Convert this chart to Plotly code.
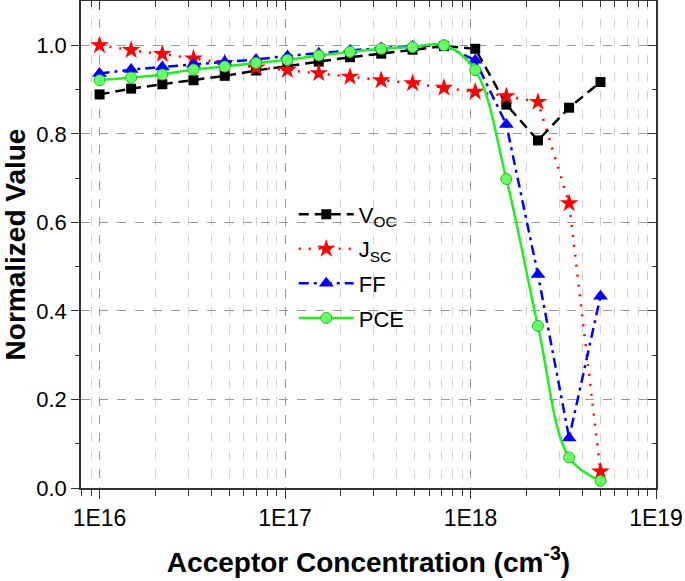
import plotly.graph_objects as go

conc = [1.0e16, 1.48e16, 2.18e16, 3.21e16, 4.73e16, 6.98e16, 1.03e17, 1.52e17, 2.24e17,
        3.30e17, 4.87e17, 7.19e17, 1.06e18, 1.56e18, 2.31e18, 3.40e18, 5.02e18]
voc = [0.889, 0.902, 0.912, 0.921, 0.931, 0.943, 0.953, 0.963, 0.973, 0.981, 0.990, 0.998,
       0.992, 0.866, 0.785, 0.859, 0.917]
jsc = [1.000, 0.989, 0.980, 0.970, 0.960, 0.950, 0.944, 0.937, 0.929, 0.921, 0.914, 0.904,
       0.895, 0.885, 0.872, 0.643, 0.037]
ff = [0.936, 0.945, 0.951, 0.957, 0.963, 0.968, 0.976, 0.982, 0.988, 0.994, 0.998, 1.000,
      0.966, 0.821, 0.482, 0.113, 0.433]
pce = [0.921, 0.927, 0.934, 0.945, 0.952, 0.960, 0.967, 0.977, 0.985, 0.992, 0.996, 1.000,
       0.944, 0.698, 0.366, 0.069, 0.016]

x_tick_vals = [1e16, 1e17, 1e18, 1e19]
x_tick_text = ["1E16", "1E17", "1E18", "1E19"]
x_minor_vals = [m * 10.0 ** e for e in range(15, 19) for m in range(2, 10)]
y_tick_vals = [0.0, 0.2, 0.4, 0.6, 0.8, 1.0]
y_minor_vals = [0.1, 0.3, 0.5, 0.7, 0.9]

FONT = "Liberation Sans, Arial, sans-serif"
xr = [15.9, 19.0]
yr = [0.0, 1.1]

fig = go.Figure()
fig.add_trace(go.Scatter(
    x=conc, y=voc, name="V<sub>OC</sub>", mode="lines+markers", legendgroup="a",
    line=dict(color="black", width=2.5, dash="10px,6px"),
    marker=dict(symbol="square", size=10, color="black"), cliponaxis=False))
fig.add_trace(go.Scatter(
    x=conc, y=jsc, name="J<sub>SC</sub>", mode="lines+markers", legendgroup="b",
    line=dict(color="red", width=2.5, dash="2px,8px"),
    marker=dict(symbol="star", size=14, color="red"), cliponaxis=False))
fig.add_trace(go.Scatter(
    x=conc, y=ff, name="FF", mode="lines+markers", legendgroup="c",
    line=dict(color="blue", width=2.5, dash="10px,5px,3px,5px"),
    marker=dict(symbol="triangle-up", size=13, color="blue"), cliponaxis=False))
fig.add_trace(go.Scatter(
    x=conc, y=pce, name="PCE", mode="lines+markers", legendgroup="d",
    line=dict(color="#22ee22", width=2.5, shape="spline", smoothing=1.0),
    marker=dict(symbol="circle", size=11, color="#66ff66",
                line=dict(color="#22bb22", width=1)), cliponaxis=False))
fig.add_trace(go.Scatter(x=[], y=[], xaxis="x2", yaxis="y2", showlegend=False,
                         hoverinfo="skip"))

fig.update_layout(
    width=685, height=581,
    margin=dict(l=81, r=29, t=1, b=93),
    paper_bgcolor="white", plot_bgcolor="white",
    font=dict(family=FONT, size=20, color="black"),
    showlegend=True,
    legend=dict(x=0.37, y=0.605, xanchor="left", yanchor="top",
                bgcolor="rgba(0,0,0,0)", font=dict(size=22),
                traceorder="grouped", tracegroupgap=3, itemwidth=55),
    xaxis=dict(
        type="log", range=xr, tickmode="array", tickvals=x_tick_vals, ticktext=x_tick_text,
        ticks="outside", ticklen=9, tickwidth=1.2, tickcolor="#333", automargin=False,
        showline=True, linecolor="#333", linewidth=1.5,
        showgrid=True, gridcolor="#9a9a9a", griddash="dash", gridwidth=1,
        tickfont=dict(size=23),
        minor=dict(tickmode="array", tickvals=x_minor_vals, ticks="outside", ticklen=6,
                   tickcolor="#333", showgrid=True, gridcolor="#d2d2d2", griddash="dash",
                   gridwidth=1),
        title=dict(text="<b>Acceptor Concentration (cm<sup>-3</sup>)</b>",
                   font=dict(size=28), standoff=22),
        zeroline=False),
    yaxis=dict(
        range=yr, tickmode="array", tickvals=y_tick_vals, tickformat=".1f",
        ticks="outside", ticklen=8, tickwidth=1.2, tickcolor="#333", automargin=False,
        showline=True, linecolor="#333", linewidth=1.5,
        showgrid=True, gridcolor="#9a9a9a", griddash="dash", gridwidth=1,
        tickfont=dict(size=22),
        minor=dict(tickmode="array", tickvals=y_minor_vals, ticks="outside", ticklen=4,
                   tickcolor="#333", showgrid=False),
        title=dict(text="<b>Normalized Value</b>", font=dict(size=28), standoff=6),
        zeroline=False),
    xaxis2=dict(
        type="log", range=xr, overlaying="x", side="top", tickmode="array",
        tickvals=x_tick_vals, showticklabels=False, ticks="inside", ticklen=9,
        tickcolor="#333", showline=True, linecolor="#333", linewidth=1.5, showgrid=False,
        minor=dict(tickmode="array", tickvals=x_minor_vals, ticks="inside", ticklen=6,
                   tickcolor="#333", showgrid=False),
        zeroline=False),
    yaxis2=dict(
        range=yr, overlaying="y", side="right", tickmode="array", tickvals=y_tick_vals,
        showticklabels=False, ticks="inside", ticklen=8, tickcolor="#333",
        showline=True, linecolor="#333", linewidth=1.5, showgrid=False,
        minor=dict(tickmode="array", tickvals=y_minor_vals, ticks="inside", ticklen=4,
                   tickcolor="#333", showgrid=False),
        zeroline=False),
)

fig.write_html("out.html", config={"displayModeBar": False},
               post_script="document.body.style.margin='0';document.body.style.padding='0';")
